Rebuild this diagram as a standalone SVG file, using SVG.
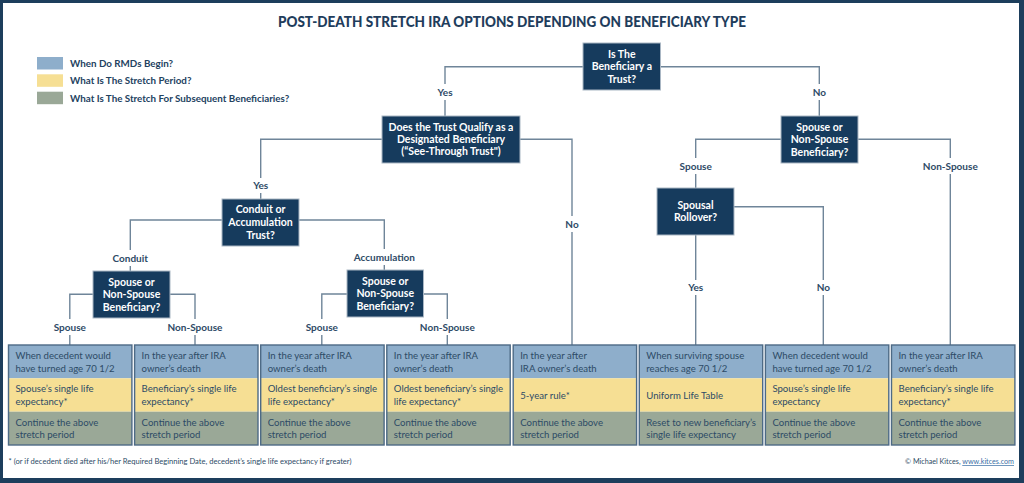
<svg xmlns="http://www.w3.org/2000/svg" width="1024" height="483" viewBox="0 0 1024 483">
<style>
text{font-family:Lato,"Open Sans","Liberation Sans",sans-serif}
.title{font-size:15.5px;font-weight:900;fill:#1f3d5c}
.leg{font-size:9.8px;font-weight:700;fill:#23425f}
.node rect{fill:#163b5d;stroke:#aab7c4;stroke-width:1}
.node text{font-size:10.5px;font-weight:700;fill:#ffffff;text-anchor:middle}
.conn path{fill:none;stroke:#6f8599;stroke-width:1.4}
.lbl rect{fill:#ffffff}
.lbl text{font-size:10px;font-weight:700;fill:#2e4a66;text-anchor:middle}
.box rect{stroke:none}
.box .frame{fill:none;stroke:#4d6a85;stroke-width:1.4}
.r1{fill:#8eaecb}
.r2{fill:#f6df94}
.r3{fill:#9aa897}
.box text{font-size:9.6px;fill:#2d4b66}
.foot{font-size:7.2px;fill:#2d4b66}
</style>
<rect x="0" y="0" width="1024" height="483" fill="#1d3e5c"/>
<rect x="3" y="3" width="1016" height="475" fill="#ffffff"/>
<text class="title" x="512" y="26.7" text-anchor="middle" textLength="468" lengthAdjust="spacingAndGlyphs">POST-DEATH STRETCH IRA OPTIONS DEPENDING ON BENEFICIARY TYPE</text>
<g id="legend">
<rect x="37" y="57" width="26" height="12.5" class="r1"/>
<rect x="37" y="74.3" width="26" height="12.5" class="r2"/>
<rect x="37" y="91.7" width="26" height="12.5" class="r3"/>
<text class="leg" x="70" y="66.5">When Do RMDs Begin?</text>
<text class="leg" x="70" y="84">What Is The Stretch Period?</text>
<text class="leg" x="70" y="101.5">What Is The Stretch For Subsequent Beneficiaries?</text>
</g>
<g id="connectors" class="conn">
<path d="M583 66.7H445V116"/>
<path d="M660.5 66.7H819.3V116"/>
<path d="M382 139.3H260.7V199"/>
<path d="M520 139.3H572V345"/>
<path d="M222 220H130.3V271"/>
<path d="M299 220H384.3V270"/>
<path d="M93 294.3H69.8V345"/>
<path d="M170 294.3H195V345"/>
<path d="M347 294H321.8V345"/>
<path d="M423 294H447.3V345"/>
<path d="M781 139.3H695.7V188"/>
<path d="M858 139.3H950.3V345"/>
<path d="M695.7 235V345"/>
<path d="M734 206.7H823.3V345"/>
</g>
<g id="labels" class="lbl">
<rect x="432" y="84" width="26" height="16"/><text x="445" y="95.7">Yes</text>
<rect x="808" y="84" width="23" height="16"/><text x="819.3" y="95.7">No</text>
<rect x="247" y="178" width="27" height="15"/><text x="260.7" y="189.3">Yes</text>
<rect x="561" y="216" width="22" height="16"/><text x="572" y="228.3">No</text>
<rect x="107" y="250" width="46" height="16"/><text x="130.3" y="262">Conduit</text>
<rect x="350" y="249" width="69" height="16"/><text x="384.3" y="261.2">Accumulation</text>
<rect x="51" y="319" width="38" height="16"/><text x="69.8" y="331">Spouse</text>
<rect x="166" y="319" width="58" height="16"/><text x="195" y="331">Non-Spouse</text>
<rect x="303" y="319" width="38" height="16"/><text x="321.8" y="331">Spouse</text>
<rect x="418" y="319" width="58" height="16"/><text x="447.3" y="331">Non-Spouse</text>
<rect x="677" y="158" width="38" height="16"/><text x="695.7" y="169.5">Spouse</text>
<rect x="921" y="158" width="58" height="16"/><text x="950.3" y="170">Non-Spouse</text>
<rect x="683" y="280" width="26" height="15"/><text x="695.7" y="291.3">Yes</text>
<rect x="812" y="280" width="23" height="15"/><text x="823.3" y="291.3">No</text>
</g>
<g id="n-root" class="node">
<rect x="583" y="43" width="77.5" height="47"/>
<text x="621.8" y="57.7">Is The</text>
<text x="621.8" y="70.2">Beneficiary a</text>
<text x="621.8" y="82.7">Trust?</text>
</g>
<g id="n-seethrough" class="node">
<rect x="382" y="116" width="138" height="47"/>
<text x="451" y="130.7">Does the Trust Qualify as a</text>
<text x="451" y="142.9">Designated Beneficiary</text>
<text x="451" y="155.1">(“See-Through Trust")</text>
</g>
<g id="n-conduit" class="node">
<rect x="222" y="199" width="77" height="47"/>
<text x="260.5" y="213.3">Conduit or</text>
<text x="260.5" y="226">Accumulation</text>
<text x="260.5" y="238.5">Trust?</text>
</g>
<g id="n-spouse-conduit" class="node">
<rect x="93" y="271" width="77" height="47"/>
<text x="131.5" y="285.5">Spouse or</text>
<text x="131.5" y="298">Non-Spouse</text>
<text x="131.5" y="310.5">Beneficiary?</text>
</g>
<g id="n-spouse-accum" class="node">
<rect x="347" y="270" width="76.5" height="47"/>
<text x="385.2" y="284.5">Spouse or</text>
<text x="385.2" y="297">Non-Spouse</text>
<text x="385.2" y="309.5">Beneficiary?</text>
</g>
<g id="n-spouse-direct" class="node">
<rect x="781" y="116" width="77" height="47"/>
<text x="819.5" y="130.7">Spouse or</text>
<text x="819.5" y="143.1">Non-Spouse</text>
<text x="819.5" y="155.5">Beneficiary?</text>
</g>
<g id="n-rollover" class="node">
<rect x="657" y="188" width="77" height="47"/>
<text x="695.5" y="209">Spousal</text>
<text x="695.5" y="221.3">Rollover?</text>
</g>
<g id="box1" class="box">
<rect x="8.5" y="345" width="123.4" height="33.3" class="r1"/><rect x="8.5" y="378.3" width="123.4" height="33.4" class="r2"/><rect x="8.5" y="411.7" width="123.4" height="33.3" class="r3"/><rect x="8.5" y="345" width="123.4" height="100" class="frame"/>
<text x="15.5" y="359">When decedent would</text><text x="15.5" y="371.7">have turned age 70 1/2</text>
<text x="15.5" y="392.3">Spouse’s single life</text><text x="15.5" y="405">expectancy*</text>
<text x="15.5" y="425.7">Continue the above</text><text x="15.5" y="438.3">stretch period</text>
</g>
<g id="box2" class="box">
<rect x="134.6" y="345" width="123.4" height="33.3" class="r1"/><rect x="134.6" y="378.3" width="123.4" height="33.4" class="r2"/><rect x="134.6" y="411.7" width="123.4" height="33.3" class="r3"/><rect x="134.6" y="345" width="123.4" height="100" class="frame"/>
<text x="141.6" y="359">In the year after IRA</text><text x="141.6" y="371.7">owner’s death</text>
<text x="141.6" y="392.3">Beneficiary’s single life</text><text x="141.6" y="405">expectancy*</text>
<text x="141.6" y="425.7">Continue the above</text><text x="141.6" y="438.3">stretch period</text>
</g>
<g id="box3" class="box">
<rect x="260.7" y="345" width="123.4" height="33.3" class="r1"/><rect x="260.7" y="378.3" width="123.4" height="33.4" class="r2"/><rect x="260.7" y="411.7" width="123.4" height="33.3" class="r3"/><rect x="260.7" y="345" width="123.4" height="100" class="frame"/>
<text x="267.7" y="359">In the year after IRA</text><text x="267.7" y="371.7">owner’s death</text>
<text x="267.7" y="392.3">Oldest beneficiary’s single</text><text x="267.7" y="405">life expectancy*</text>
<text x="267.7" y="425.7">Continue the above</text><text x="267.7" y="438.3">stretch period</text>
</g>
<g id="box4" class="box">
<rect x="386.8" y="345" width="123.4" height="33.3" class="r1"/><rect x="386.8" y="378.3" width="123.4" height="33.4" class="r2"/><rect x="386.8" y="411.7" width="123.4" height="33.3" class="r3"/><rect x="386.8" y="345" width="123.4" height="100" class="frame"/>
<text x="393.8" y="359">In the year after IRA</text><text x="393.8" y="371.7">owner’s death</text>
<text x="393.8" y="392.3">Oldest beneficiary’s single</text><text x="393.8" y="405">life expectancy*</text>
<text x="393.8" y="425.7">Continue the above</text><text x="393.8" y="438.3">stretch period</text>
</g>
<g id="box5" class="box">
<rect x="513.2" y="345" width="123.4" height="33.3" class="r1"/><rect x="513.2" y="378.3" width="123.4" height="33.4" class="r2"/><rect x="513.2" y="411.7" width="123.4" height="33.3" class="r3"/><rect x="513.2" y="345" width="123.4" height="100" class="frame"/>
<text x="520.2" y="359">In the year after</text><text x="520.2" y="371.7">IRA owner’s death</text>
<text x="520.2" y="398.6">5-year rule*</text>
<text x="520.2" y="425.7">Continue the above</text><text x="520.2" y="438.3">stretch period</text>
</g>
<g id="box6" class="box">
<rect x="639.3" y="345" width="123.4" height="33.3" class="r1"/><rect x="639.3" y="378.3" width="123.4" height="33.4" class="r2"/><rect x="639.3" y="411.7" width="123.4" height="33.3" class="r3"/><rect x="639.3" y="345" width="123.4" height="100" class="frame"/>
<text x="646.3" y="359">When surviving spouse</text><text x="646.3" y="371.7">reaches age 70 1/2</text>
<text x="646.3" y="398.6">Uniform Life Table</text>
<text x="646.3" y="425.7">Reset to new beneficiary’s</text><text x="646.3" y="438.3">single life expectancy</text>
</g>
<g id="box7" class="box">
<rect x="765.4" y="345" width="123.4" height="33.3" class="r1"/><rect x="765.4" y="378.3" width="123.4" height="33.4" class="r2"/><rect x="765.4" y="411.7" width="123.4" height="33.3" class="r3"/><rect x="765.4" y="345" width="123.4" height="100" class="frame"/>
<text x="772.4" y="359">When decedent would</text><text x="772.4" y="371.7">have turned age 70 1/2</text>
<text x="772.4" y="392.3">Spouse’s single life</text><text x="772.4" y="405">expectancy</text>
<text x="772.4" y="425.7">Continue the above</text><text x="772.4" y="438.3">stretch period</text>
</g>
<g id="box8" class="box">
<rect x="891.5" y="345" width="123.4" height="33.3" class="r1"/><rect x="891.5" y="378.3" width="123.4" height="33.4" class="r2"/><rect x="891.5" y="411.7" width="123.4" height="33.3" class="r3"/><rect x="891.5" y="345" width="123.4" height="100" class="frame"/>
<text x="898.5" y="359">In the year after IRA</text><text x="898.5" y="371.7">owner’s death</text>
<text x="898.5" y="392.3">Beneficiary’s single life</text><text x="898.5" y="405">expectancy*</text>
<text x="898.5" y="425.7">Continue the above</text><text x="898.5" y="438.3">stretch period</text>
</g>
<g id="footer">
<text class="foot" x="8.5" y="464" textLength="343" lengthAdjust="spacingAndGlyphs">* (or if decedent died after his/her Required Beginning Date, decedent’s single life expectancy if greater)</text>
<text class="foot" x="1014" y="464" text-anchor="end" font-size="7.5">© Michael Kitces, <tspan fill="#3a6ea5" text-decoration="underline">www.kitces.com</tspan></text>
</g>
</svg>
